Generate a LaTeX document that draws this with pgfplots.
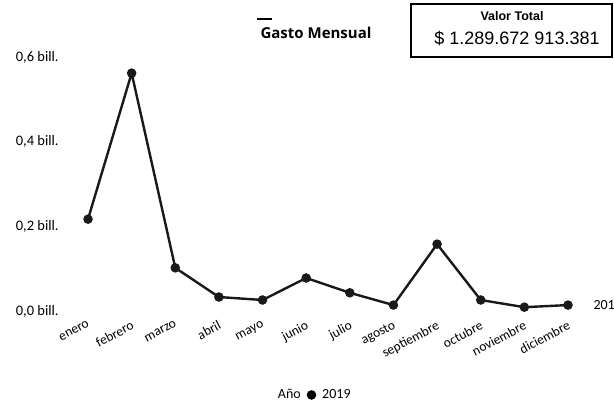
\documentclass[border=0pt]{standalone}
\usepackage{pgfplots}
\pgfplotsset{compat=1.18}
\usepackage{fontspec}
\setmainfont{Carlito}
\newfontfamily\titlefont{Open Sans}
\newfontfamily\arialfont{Liberation Sans}
\begin{document}
\begin{tikzpicture}[x=1pt,y=1pt]
\path[use as bounding box] (0,0) rectangle (614,407);
% title
\draw[line width=1.5pt] (257,388) -- (272,388);
\node[font=\titlefont\bfseries\fontsize{15}{17}\selectfont, anchor=center] at (316,374) {Gasto Mensual};
% total box
\draw[line width=1.2pt] (411,403) rectangle (612,350);
\node[font=\arialfont\bfseries\fontsize{12.5}{14}\selectfont] at (512,391) {Valor Total};
\node[font=\arialfont\fontsize{18}{20}\selectfont] at (517,369) {\$ 1.289.672 913.381};
\begin{axis}[
  at={(66.2pt,96pt)}, anchor=south west,
  scale only axis, width=523.6pt, height=262.4pt,
  xmin=0.5, xmax=12.5, ymin=0, ymax=0.62,
  axis line style={draw=none},
  major tick length=0pt,
  clip=false,
  xtick={1,...,12},
  xticklabels={enero,febrero,marzo,abril,mayo,junio,julio,agosto,septiembre,octubre,noviembre,diciembre},
  xticklabel style={font=\fontsize{13.5}{15}\selectfont, rotate=28, anchor=north east, xshift=-2pt, yshift=-4pt},
  ytick={0,0.2,0.4,0.6},
  yticklabels={{0,0 bill.},{0,2 bill.},{0,4 bill.},{0,6 bill.}},
  yticklabel style={font=\fontsize{14.5}{16}\selectfont, anchor=east, xshift=-4pt},
  legend columns=-1,
  legend style={draw=none, fill=none, at={(0.47,-0.32)}, anchor=center,
    font=\fontsize{14}{16}\selectfont, column sep=4pt},
]
\addlegendimage{empty legend}
\addlegendentry{Año}
\addplot[black!90, line width=2.4pt, mark=*, mark size=3.5pt,
  legend image code/.code={\draw[black, fill=black] (0.1cm,0cm) circle (3.5pt);}]
  coordinates {
  (1,0.217) (2,0.562) (3,0.102) (4,0.033) (5,0.026) (6,0.078)
  (7,0.043) (8,0.014) (9,0.158) (10,0.026) (11,0.009) (12,0.014)
  };
\addlegendentry{2019}
\node[anchor=west, font=\fontsize{14}{16}\selectfont, xshift=22pt] at (axis cs:12,0.014) {2019};
\end{axis}
\end{tikzpicture}
\end{document}
